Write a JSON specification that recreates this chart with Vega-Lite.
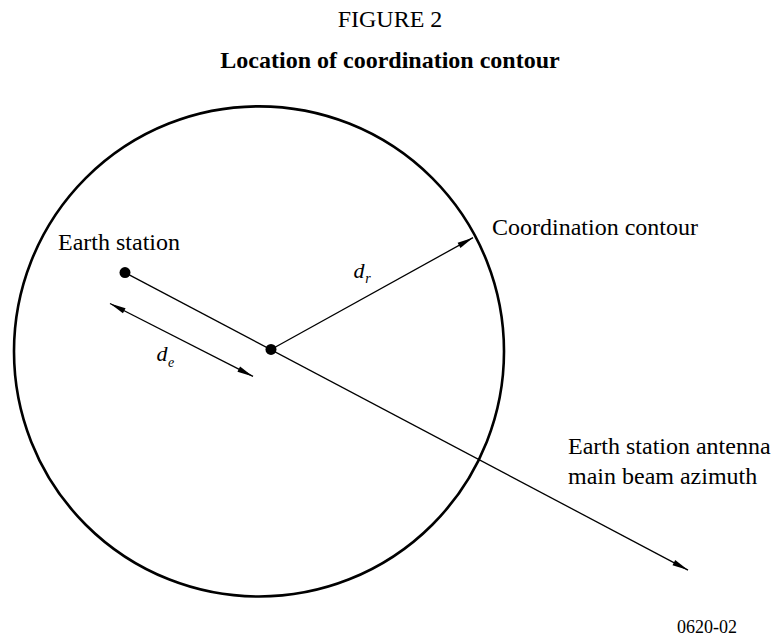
{
  "$schema": "https://vega.github.io/schema/vega-lite/v6.json",
  "width": 772,
  "height": 637,
  "autosize": {"type": "fit", "contains": "padding"},
  "padding": 0,
  "background": "white",
  "config": {"view": {"stroke": null}, "font": "Liberation Serif"},
  "datasets": {
    "contour": [{"x": 259, "y": 352, "item": "coordination contour"}],
    "segments": [
      {"item": "main beam azimuth", "x": 125, "y": 273, "x2": 688, "y2": 571},
      {"item": "dr", "x": 271, "y": 350, "x2": 473, "y2": 238},
      {"item": "de", "x": 110, "y": 304, "x2": 253, "y2": 377}
    ],
    "arrowheads": [
      {"item": "main beam azimuth", "x": 688, "y": 571, "heading": 117.9},
      {"item": "dr", "x": 473, "y": 238, "heading": 61.0},
      {"item": "de end", "x": 253, "y": 377, "heading": 117.0},
      {"item": "de start", "x": 110, "y": 304, "heading": 297.0}
    ],
    "stations": [
      {"item": "Earth station", "x": 125, "y": 273},
      {"item": "contour centre", "x": 271, "y": 350}
    ],
    "labels": [
      {"text": "Earth station", "x": 58, "y": 250},
      {"text": "Coordination contour", "x": 492, "y": 235},
      {"text": "Earth station antenna", "x": 568, "y": 455},
      {"text": "main beam azimuth", "x": 568, "y": 485}
    ],
    "symbols": [
      {"text": "d", "x": 359, "y": 278},
      {"text": "d", "x": 162, "y": 362}
    ],
    "subscripts": [
      {"text": "r", "x": 368, "y": 283},
      {"text": "e", "x": 171, "y": 368}
    ],
    "figure": [{"text": "FIGURE 2", "x": 390, "y": 27}],
    "title": [{"text": "Location of coordination contour", "x": 390, "y": 68}],
    "code": [{"text": "0620-02", "x": 707, "y": 634}]
  },
  "encoding": {
    "x": {"field": "x", "type": "quantitative", "scale": {"domain": [0, 772], "nice": false, "zero": false}, "axis": null},
    "y": {"field": "y", "type": "quantitative", "scale": {"domain": [0, 637], "nice": false, "zero": false, "reverse": true}, "axis": null}
  },
  "layer": [
    {
      "data": {"name": "contour"},
      "mark": {"type": "point", "shape": "circle", "size": 240100, "filled": false, "stroke": "black", "strokeWidth": 2.6, "opacity": 1}
    },
    {
      "data": {"name": "segments"},
      "mark": {"type": "rule", "color": "black", "strokeWidth": 1.3},
      "encoding": {"x2": {"field": "x2"}, "y2": {"field": "y2"}}
    },
    {
      "data": {"name": "arrowheads"},
      "mark": {"type": "point", "shape": "M 0 0 L 0.18 1 L -0.18 1 Z", "size": 1024, "filled": true, "color": "black", "opacity": 1, "strokeWidth": 0},
      "encoding": {"angle": {"field": "heading", "type": "quantitative", "scale": null}}
    },
    {
      "data": {"name": "stations"},
      "mark": {"type": "point", "shape": "circle", "size": 121, "filled": true, "color": "black", "opacity": 1}
    },
    {
      "data": {"name": "labels"},
      "mark": {"type": "text", "align": "left", "baseline": "alphabetic", "fontSize": 24, "font": "Liberation Serif", "color": "black"},
      "encoding": {"text": {"field": "text"}}
    },
    {
      "data": {"name": "symbols"},
      "mark": {"type": "text", "align": "center", "baseline": "alphabetic", "fontSize": 22, "fontStyle": "italic", "font": "Liberation Serif", "color": "black"},
      "encoding": {"text": {"field": "text"}}
    },
    {
      "data": {"name": "subscripts"},
      "mark": {"type": "text", "align": "center", "baseline": "alphabetic", "fontSize": 14, "fontStyle": "italic", "font": "Liberation Serif", "color": "black"},
      "encoding": {"text": {"field": "text"}}
    },
    {
      "data": {"name": "figure"},
      "mark": {"type": "text", "align": "center", "baseline": "alphabetic", "fontSize": 24, "font": "Liberation Serif", "color": "black"},
      "encoding": {"text": {"field": "text"}}
    },
    {
      "data": {"name": "title"},
      "mark": {"type": "text", "align": "center", "baseline": "alphabetic", "fontSize": 24, "fontWeight": "bold", "font": "Liberation Serif", "color": "black"},
      "encoding": {"text": {"field": "text"}}
    },
    {
      "data": {"name": "code"},
      "mark": {"type": "text", "align": "center", "baseline": "alphabetic", "fontSize": 18, "font": "Liberation Serif", "color": "black"},
      "encoding": {"text": {"field": "text"}}
    }
  ]
}
